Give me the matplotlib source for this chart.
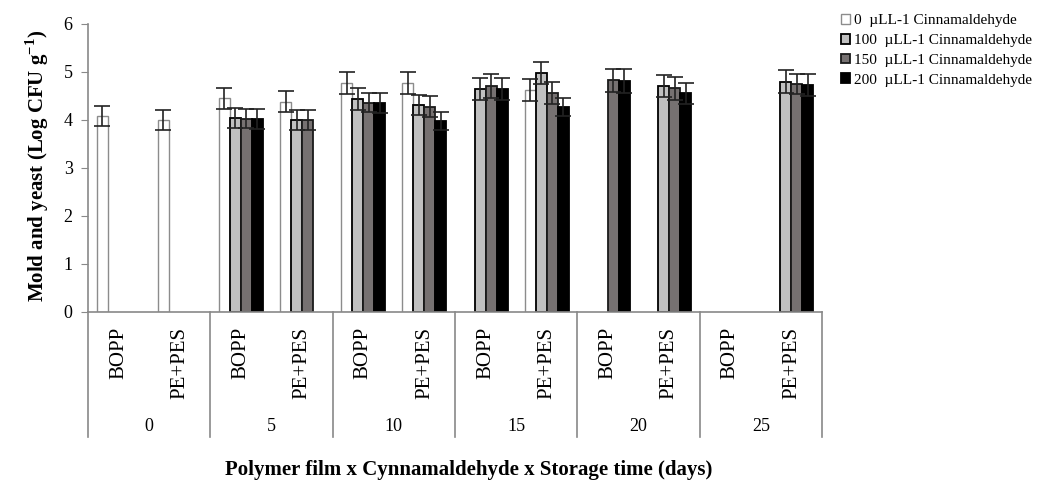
import numpy as np
import matplotlib
matplotlib.use("Agg")
import matplotlib.pyplot as plt

plt.rcParams['font.family'] = ['Liberation Serif', 'DejaVu Serif']
plt.rcParams['mathtext.fontset'] = 'custom'
plt.rcParams['mathtext.rm'] = 'Liberation Serif'
plt.rcParams['mathtext.bf'] = 'Liberation Serif:bold'

nan = np.nan
days = ["0", "5", "10", "15", "20", "25"]
films = ["BOPP", "PE+PES"]
series_labels = ["0  µLL-1 Cinnamaldehyde", "100  µLL-1 Cinnamaldehyde",
                 "150  µLL-1 Cinnamaldehyde", "200  µLL-1 Cinnamaldehyde"]

c0 = [4.08, 4.00, 4.45, 4.38, 4.77, 4.77, nan, 4.62, nan, nan, nan, nan]
c100 = [nan, nan, 4.04, 4.00, 4.44, 4.31, 4.64, 4.98, nan, 4.71, nan, 4.80]
c150 = [nan, nan, 4.03, 4.00, 4.36, 4.28, 4.71, 4.56, 4.83, 4.66, nan, 4.75]
c200 = [nan, nan, 4.02, nan, 4.35, 3.98, 4.64, 4.27, 4.81, 4.56, nan, 4.73]

e0 = [0.21, 0.21, 0.22, 0.22, 0.23, 0.23, nan, 0.23, nan, nan, nan, nan]
e100 = [nan, nan, 0.21, 0.20, 0.23, 0.21, 0.23, 0.22, nan, 0.23, nan, 0.24]
e150 = [nan, nan, 0.20, 0.20, 0.20, 0.22, 0.25, 0.23, 0.24, 0.24, nan, 0.21]
e200 = [nan, nan, 0.20, nan, 0.21, 0.19, 0.23, 0.19, 0.25, 0.22, nan, 0.23]

values = [c0, c100, c150, c200]
errors = [e0, e100, e150, e200]
fills = ["#FFFFFF", "#C0C0C0", "#767171", "#000000"]
edges = ["#8C8C8C", "#000000", "#1a1a1a", "#000000"]

fig = plt.figure(figsize=(10.4, 4.83), dpi=100)
ax = fig.add_axes([88/1040, 1-312/483, (822-88)/1040, (312-24)/483])

n = len(films) * len(days)
x = np.arange(n)
w = 0.18
for i, (v, e) in enumerate(zip(values, errors)):
    pos = x + (i - 1.5) * w
    ax.bar(pos, v, width=w, color=fills[i], edgecolor=edges[i],
           linewidth=1.3 if i else 1.0, label=series_labels[i], zorder=2)
    ax.errorbar(pos, v, yerr=e, fmt='none', ecolor="#222222", elinewidth=1.2,
                capsize=5.5, capthick=1.2, zorder=3)

ax.set_xlim(-0.5, n - 0.5)
ax.set_ylim(0, 6)
ax.set_yticks(range(7))
ax.tick_params(axis='y', labelsize=13, length=5, color="#898989", pad=6)
ax.set_xticks([])
for s in ["top", "right"]:
    ax.spines[s].set_visible(False)
for s in ["left", "bottom"]:
    ax.spines[s].set_color("#898989")
    ax.spines[s].set_linewidth(1.2)

trans = ax.get_xaxis_transform()
for k in range(len(days) + 1):
    xs = -0.5 + 2 * k
    ax.plot([xs, xs], [0, -0.434], transform=trans, color="#898989",
            lw=1.2, clip_on=False)
for j in range(n):
    ax.text(j, -0.052, films[j % 2], transform=trans, rotation=90,
            ha='center', va='top', fontsize=15)
for k, d in enumerate(days):
    ax.text(0.5 + 2 * k, -0.396, d, transform=trans, ha='center',
            va='center', fontsize=13)

fig.text(469/1040, 1-470/483, "Polymer film x Cynnamaldehyde x Storage time (days)",
         ha='center', va='center', fontsize=15, fontweight='bold')
fig.text(37/1040, 1-166/483, r"Mold and yeast (Log CFU g$^{\mathbf{-1}}$)",
         ha='center', va='center', rotation=90, fontsize=15, fontweight='bold')

fig.legend(loc='upper left', bbox_to_anchor=(841/1040, 1-14/483), frameon=False,
           fontsize=11, handlelength=0.6, handleheight=0.6, handletextpad=0.25,
           labelspacing=0.43, borderaxespad=0, borderpad=0)

fig.savefig("out.png", dpi=100)
